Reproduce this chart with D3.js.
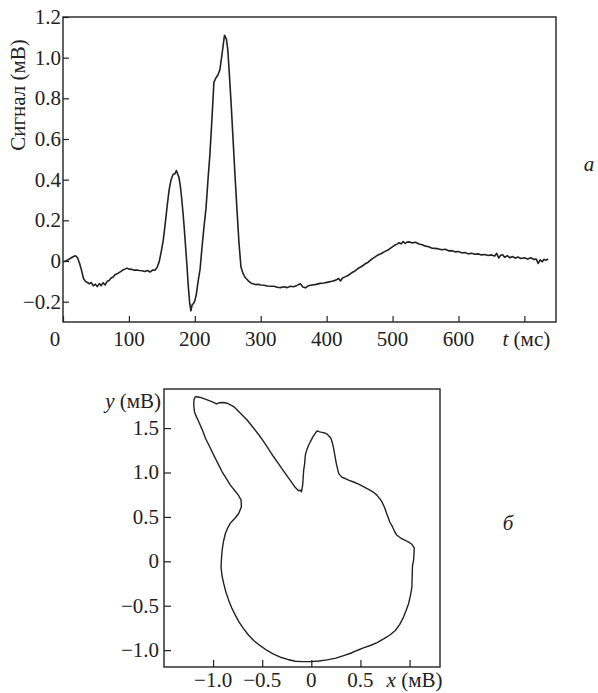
<!DOCTYPE html>
<html>
<head>
<meta charset="utf-8">
<script src="https://cdn.jsdelivr.net/npm/d3@7"></script>
<style>
  body { margin: 0; background: #fff; }
</style>
</head>
<body>
<div id="chart"></div>
<script>
// ECG signal: [t (ms), signal (mV)]
const ecgPoints = [
  [0, -0.005], [4, 0.000], [8, 0.006], [12, 0.015], [16, 0.022], [19, 0.026], [22, 0.016],
  [25, -0.010], [28, -0.045], [31, -0.085], [34, -0.100], [37, -0.106], [40, -0.112],
  [43, -0.106], [46, -0.122], [49, -0.114], [52, -0.126], [55, -0.111], [58, -0.121],
  [61, -0.107], [64, -0.118], [67, -0.100], [70, -0.096], [73, -0.084], [76, -0.079],
  [79, -0.067], [82, -0.063], [85, -0.057], [88, -0.051], [91, -0.044], [94, -0.040],
  [97, -0.035], [100, -0.040], [104, -0.041], [108, -0.045], [112, -0.044], [116, -0.047],
  [120, -0.048], [124, -0.052], [128, -0.047], [132, -0.054], [136, -0.045], [140, -0.044],
  [143, -0.030], [146, -0.003], [149, 0.045], [152, 0.100], [155, 0.180], [158, 0.270],
  [161, 0.350], [164, 0.400], [167, 0.425], [170, 0.430], [172, 0.445], [174, 0.428],
  [176, 0.410], [178, 0.370], [180, 0.310], [182, 0.240], [184, 0.160], [186, 0.070],
  [188, -0.020], [190, -0.120], [192, -0.200], [194, -0.245], [196, -0.215], [198, -0.210],
  [200, -0.195], [202, -0.170], [205, -0.100], [208, -0.040], [211, 0.070], [214, 0.170],
  [217, 0.260], [220, 0.400], [223, 0.530], [226, 0.700], [229, 0.880], [232, 0.900],
  [235, 0.915], [238, 0.940], [241, 1.010], [243, 1.060], [245, 1.110], [246, 1.105],
  [248, 1.090], [250, 1.040], [252, 0.940], [255, 0.780], [258, 0.600], [261, 0.420],
  [264, 0.250], [267, 0.090], [270, -0.030], [273, -0.060], [276, -0.080], [279, -0.090],
  [282, -0.100], [285, -0.108], [288, -0.112], [292, -0.116], [296, -0.114], [300, -0.118],
  [305, -0.119], [310, -0.123], [315, -0.124], [320, -0.124], [325, -0.129], [330, -0.131],
  [335, -0.127], [340, -0.131], [345, -0.124], [350, -0.127], [355, -0.120], [360, -0.112],
  [364, -0.128], [368, -0.132], [372, -0.122], [378, -0.118], [384, -0.115], [390, -0.110],
  [396, -0.108], [402, -0.104], [408, -0.100], [414, -0.094], [418, -0.086], [421, -0.098],
  [424, -0.084], [428, -0.078], [433, -0.070], [438, -0.058], [443, -0.049], [448, -0.036],
  [453, -0.027], [458, -0.015], [463, -0.006], [468, 0.008], [473, 0.019], [478, 0.030],
  [483, 0.037], [488, 0.046], [493, 0.054], [498, 0.066], [503, 0.077], [507, 0.083],
  [510, 0.090], [513, 0.084], [516, 0.096], [519, 0.087], [522, 0.093], [526, 0.094],
  [530, 0.089], [535, 0.092], [540, 0.084], [545, 0.080], [550, 0.073], [555, 0.070],
  [560, 0.063], [565, 0.062], [570, 0.059], [575, 0.055], [580, 0.058], [585, 0.050],
  [590, 0.051], [595, 0.045], [600, 0.047], [605, 0.040], [610, 0.042], [615, 0.035],
  [620, 0.038], [625, 0.033], [630, 0.035], [635, 0.030], [640, 0.032], [645, 0.027],
  [650, 0.030], [655, 0.024], [658, 0.038], [661, 0.015], [664, 0.028], [667, 0.031],
  [670, 0.018], [674, 0.026], [678, 0.016], [682, 0.022], [686, 0.014], [690, 0.020],
  [695, 0.012], [700, 0.016], [705, 0.010], [710, 0.016], [714, 0.008], [718, 0.010],
  [721, -0.012], [724, 0.006], [727, -0.004], [730, 0.008], [733, 0.004], [736, 0.010]
];

// vector loop: [x (mV), y (mV)]
const loopPoints = [
  [-1.18, 1.855], [-1.13, 1.845], [-1.06, 1.818], [-0.995, 1.79], [-0.966, 1.772],
  [-0.94, 1.785], [-0.90, 1.788], [-0.858, 1.78], [-0.79, 1.742], [-0.722, 1.667],
  [-0.654, 1.591], [-0.587, 1.498], [-0.535, 1.425], [-0.485, 1.347], [-0.435, 1.262],
  [-0.384, 1.177], [-0.333, 1.097], [-0.282, 1.016], [-0.24, 0.95], [-0.196, 0.884],
  [-0.163, 0.830], [-0.129, 0.795], [-0.112, 0.800], [-0.100, 0.782], [-0.088, 0.86],
  [-0.078, 1.027], [-0.068, 1.10], [-0.061, 1.196], [-0.045, 1.26], [-0.027, 1.309],
  [0.017, 1.403], [0.045, 1.45], [0.06, 1.468], [0.085, 1.458], [0.109, 1.452],
  [0.135, 1.445], [0.16, 1.433], [0.20, 1.385], [0.215, 1.33], [0.227, 1.272],
  [0.240, 1.19], [0.254, 1.103], [0.278, 0.99], [0.312, 0.945], [0.345, 0.932],
  [0.379, 0.914], [0.43, 0.893], [0.481, 0.869], [0.53, 0.84], [0.583, 0.809],
  [0.63, 0.78], [0.668, 0.745], [0.700, 0.70], [0.719, 0.669], [0.74, 0.62],
  [0.753, 0.583], [0.77, 0.53], [0.786, 0.482], [0.80, 0.44], [0.821, 0.40],
  [0.85, 0.33], [0.872, 0.293], [0.91, 0.262], [0.956, 0.237], [0.99, 0.215],
  [1.024, 0.192], [1.048, 0.150], [1.045, 0.08], [1.041, 0.011], [1.03, -0.05],
  [1.028, -0.12], [1.024, -0.29], [1.01, -0.38], [0.99, -0.477], [0.965, -0.555],
  [0.939, -0.628], [0.90, -0.71], [0.855, -0.779], [0.80, -0.83], [0.736, -0.873],
  [0.67, -0.915], [0.60, -0.948], [0.53, -0.975], [0.465, -1.004], [0.40, -1.035],
  [0.329, -1.061], [0.25, -1.09], [0.16, -1.11], [0.08, -1.122], [-0.01, -1.129],
  [-0.09, -1.13], [-0.163, -1.125], [-0.24, -1.105], [-0.315, -1.08], [-0.385, -1.045],
  [-0.451, -1.004], [-0.52, -0.95], [-0.587, -0.892], [-0.64, -0.83], [-0.689, -0.76],
  [-0.735, -0.685], [-0.773, -0.609], [-0.81, -0.525], [-0.841, -0.44], [-0.87, -0.345],
  [-0.892, -0.252], [-0.91, -0.16], [-0.919, -0.064], [-0.915, 0.03], [-0.908, 0.124],
  [-0.895, 0.22], [-0.875, 0.313], [-0.85, 0.38], [-0.824, 0.43], [-0.80, 0.46],
  [-0.773, 0.49], [-0.74, 0.538], [-0.712, 0.613], [-0.715, 0.688], [-0.735, 0.73],
  [-0.756, 0.764], [-0.824, 0.858], [-0.865, 0.93], [-0.908, 1.008], [-0.95, 1.10],
  [-0.994, 1.196], [-1.035, 1.29], [-1.078, 1.385], [-1.11, 1.48], [-1.146, 1.572],
  [-1.175, 1.64], [-1.19, 1.685], [-1.197, 1.76], [-1.195, 1.82], [-1.18, 1.855]
];

const ecgTicksX = [0, 100, 200, 300, 400, 500, 600, 700];
const ecgTicksY = [-0.2, 0, 0.2, 0.4, 0.6, 0.8, 1.0, 1.2];
const loopTicksX = [-1.0, -0.5, 0, 0.5, 1.0];
const loopTicksY = [-1.0, -0.5, 0, 0.5, 1.0, 1.5];

const width = 598, height = 693;
const ink = "#222";
const fs = 21;
const fmt = v => v === 0 ? "0" : d3.format(".1f")(v).replace("-", "\u2212");

const svg = d3.select("#chart").append("svg")
  .attr("width", width).attr("height", height)
  .attr("font-family", "'Liberation Serif', 'Times New Roman', Times, serif")
  .attr("fill", ink);

function frame(x, y) {
  const [x0, x1] = x.range(), [y0, y1] = y.range();
  svg.append("rect")
    .attr("x", x0).attr("y", y1)
    .attr("width", x1 - x0).attr("height", y0 - y1)
    .attr("fill", "none").attr("stroke", ink).attr("stroke-width", 1.4);
}

// ---- a: signal vs time ----
const x1 = d3.scaleLinear().domain([0, 748]).range([63, 556]);
const y1 = d3.scaleLinear().domain([-0.3, 1.2]).range([322, 17]);

svg.append("g")
  .attr("transform", `translate(0,${y1.range()[0]})`)
  .call(d3.axisTop(x1).tickValues(ecgTicksX).tickSize(6).tickFormat(""))
  .call(g => g.select(".domain").remove())
  .call(g => g.selectAll("line").attr("stroke", ink).attr("stroke-width", 1.2));

svg.append("g")
  .attr("transform", `translate(${x1.range()[0]},0)`)
  .call(d3.axisRight(y1).tickValues(ecgTicksY).tickSize(6).tickFormat(""))
  .call(g => g.select(".domain").remove())
  .call(g => g.selectAll("line").attr("stroke", ink).attr("stroke-width", 1.2));

svg.append("path")
  .datum(ecgPoints)
  .attr("fill", "none").attr("stroke", ink).attr("stroke-width", 1.6)
  .attr("stroke-linejoin", "round")
  .attr("d", d3.line().x(d => x1(d[0])).y(d => y1(d[1])));

frame(x1, y1);

svg.append("g").selectAll("text")
  .data(ecgTicksX.filter(d => d < 700)).join("text")
  .attr("x", d => x1(d) - (d === 0 ? 8 : 0))
  .attr("y", 346).attr("text-anchor", "middle").attr("font-size", fs)
  .text(d => d);

svg.append("text")
  .attr("x", x1(700) + 2).attr("y", 346).attr("text-anchor", "middle").attr("font-size", fs)
  .call(t => t.append("tspan").attr("font-style", "italic").text("t"))
  .call(t => t.append("tspan").text(" (мс)"));

svg.append("g").selectAll("text")
  .data(ecgTicksY).join("text")
  .attr("x", 61).attr("y", d => y1(d) + 7)
  .attr("text-anchor", "end").attr("font-size", fs)
  .text(fmt);

svg.append("text")
  .attr("transform", "translate(25,95) rotate(-90)")
  .attr("text-anchor", "middle").attr("font-size", fs)
  .text("Сигнал (мВ)");

svg.append("text")
  .attr("x", 589).attr("y", 171).attr("text-anchor", "middle")
  .attr("font-size", fs).attr("font-style", "italic")
  .text("а");

// ---- б: vector loop ----
const x2 = d3.scaleLinear().domain([-1.5, 1.31]).range([164, 440]);
const y2 = d3.scaleLinear().domain([-1.19, 1.94]).range([667, 389]);

svg.append("g")
  .attr("transform", `translate(0,${y2.range()[0]})`)
  .call(d3.axisTop(x2).tickValues(loopTicksX).tickSize(7).tickFormat(""))
  .call(g => g.select(".domain").remove())
  .call(g => g.selectAll("line").attr("stroke", ink).attr("stroke-width", 1.2));

svg.append("g")
  .attr("transform", `translate(${x2.range()[0]},0)`)
  .call(d3.axisRight(y2).tickValues(loopTicksY).tickSize(7).tickFormat(""))
  .call(g => g.select(".domain").remove())
  .call(g => g.selectAll("line").attr("stroke", ink).attr("stroke-width", 1.2));

svg.append("path")
  .datum(loopPoints)
  .attr("fill", "none").attr("stroke", ink).attr("stroke-width", 1.4)
  .attr("stroke-linejoin", "round")
  .attr("d", d3.line().x(d => x2(d[0])).y(d => y2(d[1])));

frame(x2, y2);

svg.append("g").selectAll("text")
  .data(loopTicksX.filter(d => d < 1)).join("text")
  .attr("x", d => x2(d)).attr("y", 687)
  .attr("text-anchor", "middle").attr("font-size", fs)
  .text(fmt);

svg.append("text")
  .attr("x", x2(1.0) + 5).attr("y", 687).attr("text-anchor", "middle").attr("font-size", fs)
  .call(t => t.append("tspan").attr("font-style", "italic").text("x"))
  .call(t => t.append("tspan").text(" (мВ)"));

svg.append("g").selectAll("text")
  .data(loopTicksY).join("text")
  .attr("x", 159).attr("y", d => y2(d) + 7)
  .attr("text-anchor", "end").attr("font-size", fs)
  .text(fmt);

svg.append("text")
  .attr("x", 161).attr("y", 408).attr("text-anchor", "end").attr("font-size", fs)
  .call(t => t.append("tspan").attr("font-style", "italic").text("y"))
  .call(t => t.append("tspan").text(" (мВ)"));

svg.append("text")
  .attr("x", 508).attr("y", 530).attr("text-anchor", "middle")
  .attr("font-size", fs).attr("font-style", "italic")
  .text("б");
</script>
</body>
</html>
